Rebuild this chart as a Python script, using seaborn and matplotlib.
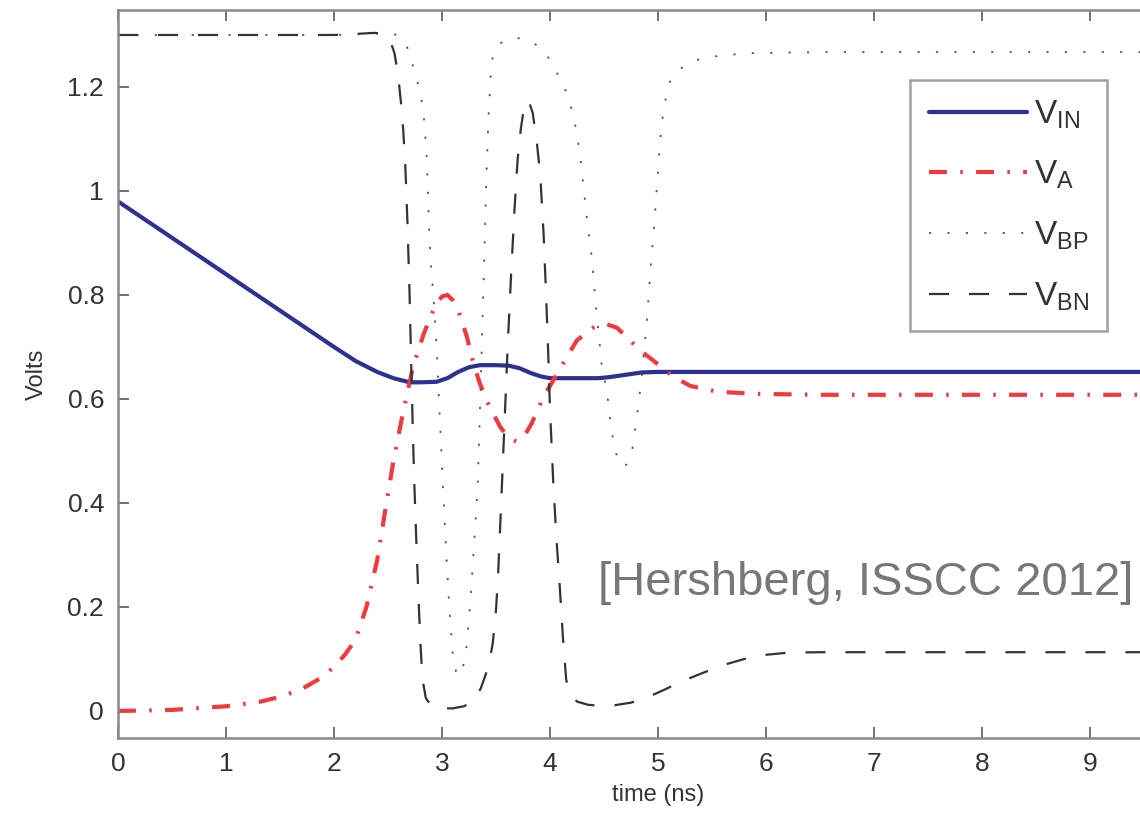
import matplotlib
matplotlib.use("Agg")
import matplotlib.pyplot as plt
import seaborn as sns
import pandas as pd

# ---- transient waveforms (time in ns, voltage in V) ----
t_in = [0, 0.5, 1.0, 1.5, 2.0, 2.2, 2.4, 2.55, 2.7, 2.8, 2.95, 3.05, 3.15, 3.25,
        3.35, 3.5, 3.62, 3.72, 3.82, 3.92, 4.0, 4.2, 4.45, 4.55, 4.65, 4.75, 4.85,
        5.0, 5.3, 6, 7, 8, 9, 10]
v_in = [0.980, 0.910, 0.840, 0.770, 0.700, 0.673, 0.652, 0.640, 0.632, 0.632, 0.633,
        0.640, 0.652, 0.661, 0.665, 0.665, 0.664, 0.659, 0.650, 0.643, 0.640, 0.640,
        0.640, 0.642, 0.645, 0.648, 0.651, 0.652, 0.652, 0.652, 0.652, 0.652, 0.652,
        0.652]

t_a = [0, 0.5, 1.0, 1.3, 1.5, 1.7, 1.9, 2.0, 2.1, 2.2, 2.3, 2.4, 2.47, 2.55, 2.64,
       2.73, 2.83, 2.94, 3.0, 3.05, 3.1, 3.15, 3.23, 3.29, 3.35, 3.44, 3.54, 3.62,
       3.69, 3.76, 3.83, 3.94, 4.03, 4.14, 4.25, 4.4, 4.52, 4.62, 4.74, 4.83, 4.95,
       5.14, 5.3, 5.55, 5.88, 6.5, 7, 8, 9, 10]
v_a = [0.000, 0.002, 0.009, 0.017, 0.027, 0.042, 0.066, 0.085, 0.108, 0.137, 0.200,
       0.290, 0.380, 0.480, 0.575, 0.660, 0.725, 0.781, 0.797, 0.800, 0.790, 0.771,
       0.720, 0.669, 0.630, 0.585, 0.546, 0.525, 0.518, 0.528, 0.553, 0.604, 0.636,
       0.675, 0.713, 0.737, 0.744, 0.737, 0.713, 0.694, 0.675, 0.643, 0.625, 0.614,
       0.610, 0.608, 0.608, 0.608, 0.608, 0.608]

t_bp = [0, 1, 2, 2.46, 2.55, 2.6, 2.64, 2.68, 2.72, 2.76, 2.79, 2.82, 2.84, 2.86,
        2.88, 2.9, 2.92, 2.95, 2.98, 3.01, 3.04, 3.07, 3.1, 3.13, 3.16, 3.19, 3.22,
        3.25, 3.28, 3.33, 3.36, 3.39, 3.41, 3.43, 3.45, 3.47, 3.52, 3.57, 3.63, 3.69,
        3.75, 3.81, 3.88, 3.94, 3.99, 4.03, 4.07, 4.11, 4.15, 4.19, 4.22, 4.25, 4.28,
        4.31, 4.34, 4.39, 4.42, 4.45, 4.48, 4.53, 4.56, 4.6, 4.65, 4.69, 4.72, 4.76,
        4.8, 4.85, 4.9, 4.93, 4.96, 4.99, 5.02, 5.05, 5.08, 5.11, 5.19, 5.3, 5.42,
        5.57, 5.83, 6.5, 7, 8, 9, 10]
v_bp = [1.300, 1.300, 1.300, 1.303, 1.302, 1.298, 1.288, 1.275, 1.248, 1.221, 1.194,
        1.165, 1.125, 1.060, 0.930, 0.850, 0.800, 0.700, 0.560, 0.430, 0.300, 0.190,
        0.110, 0.075, 0.067, 0.080, 0.110, 0.175, 0.265, 0.430, 0.640, 0.860, 1.020,
        1.140, 1.220, 1.260, 1.280, 1.289, 1.293, 1.294, 1.293, 1.289, 1.280, 1.268,
        1.255, 1.240, 1.225, 1.210, 1.190, 1.165, 1.140, 1.110, 1.065, 1.008, 0.950,
        0.867, 0.790, 0.727, 0.662, 0.611, 0.553, 0.502, 0.473, 0.470, 0.477, 0.500,
        0.560, 0.643, 0.758, 0.850, 0.920, 1.010, 1.098, 1.156, 1.185, 1.210, 1.233,
        1.247, 1.256, 1.260, 1.265, 1.267, 1.267, 1.267, 1.267, 1.267]

t_bn = [0, 1, 2, 2.2, 2.37, 2.45, 2.5, 2.53, 2.56, 2.58, 2.6, 2.62, 2.64, 2.66, 2.68,
        2.7, 2.72, 2.74, 2.76, 2.78, 2.8, 2.82, 2.85, 2.9, 3.0, 3.1, 3.2, 3.29, 3.36,
        3.43, 3.47, 3.5, 3.52, 3.55, 3.58, 3.61, 3.64, 3.67, 3.7, 3.73, 3.76, 3.8,
        3.84, 3.88, 3.91, 3.94, 3.96, 3.98, 4.0, 4.03, 4.06, 4.09, 4.12, 4.15, 4.18,
        4.25, 4.35, 4.45, 4.6, 4.75, 4.9, 5.05, 5.2, 5.4, 5.6, 5.8, 6.0, 6.2, 6.5, 7,
        8, 9, 10]
v_bn = [1.300, 1.300, 1.300, 1.302, 1.304, 1.303, 1.295, 1.283, 1.265, 1.240, 1.210,
        1.170, 1.120, 1.050, 0.940, 0.800, 0.620, 0.460, 0.340, 0.230, 0.130, 0.060,
        0.025, 0.010, 0.005, 0.005, 0.009, 0.017, 0.044, 0.085, 0.130, 0.194, 0.265,
        0.410, 0.560, 0.710, 0.840, 0.960, 1.060, 1.120, 1.160, 1.175, 1.150, 1.090,
        1.030, 0.920, 0.820, 0.710, 0.580, 0.440, 0.330, 0.240, 0.140, 0.060, 0.035,
        0.018, 0.012, 0.010, 0.011, 0.016, 0.026, 0.040, 0.055, 0.072, 0.088, 0.100,
        0.108, 0.112, 0.113, 0.113, 0.113, 0.113, 0.113]

series_labels = [r"$\mathregular{V_{IN}}$", r"$\mathregular{V_{A}}$",
                 r"$\mathregular{V_{BP}}$", r"$\mathregular{V_{BN}}$"]
x_ticks = [0, 1, 2, 3, 4, 5, 6, 7, 8, 9]
y_ticks = [0, 0.2, 0.4, 0.6, 0.8, 1.0, 1.2]
y_tick_labels = ["0", "0.2", "0.4", "0.6", "0.8", "1", "1.2"]
citation = "[Hershberg, ISSCC 2012]"

sns.set_style("ticks")
plt.rcParams["font.family"] = ["Liberation Sans", "DejaVu Sans"]
plt.rcParams["mathtext.fontset"] = "custom"

fig = plt.figure(figsize=(11.40, 8.21), dpi=100)
# the axes run past the right edge of the figure, so the trace is cut at ~9.5 ns
ax = fig.add_axes([0.1035, 0.1011, 0.9474, 0.8867])

styles = [
    dict(data=pd.DataFrame({"t": t_in, "v": v_in}), color="#2e3192", lw=3.0,
         ls="-"),
    dict(data=pd.DataFrame({"t": t_a, "v": v_a}), color="#f03a3d", lw=3.0,
         ls=(0, (4.3, 3.2, 0.6, 3.2))),
    dict(data=pd.DataFrame({"t": t_bp, "v": v_bp}), color="#555555", lw=1.3,
         ls=(0, (1.2, 9.0))),
    dict(data=pd.DataFrame({"t": t_bn, "v": v_bn}), color="#333333", lw=1.6,
         ls=(0, (9.0, 9.0))),
]
for st, lab in zip(styles, series_labels):
    sns.lineplot(data=st["data"], x="t", y="v", ax=ax, color=st["color"],
                 linewidth=st["lw"], linestyle=st["ls"], label=lab,
                 estimator=None, sort=False)

ax.set_xlim(0, 10)
ax.set_ylim(-0.052, 1.348)
ax.set_xticks(x_ticks)
ax.set_xticklabels([str(v) for v in x_ticks])
ax.set_yticks(y_ticks)
ax.set_yticklabels(y_tick_labels)
ax.tick_params(direction="in", length=8, width=1.3, color="#666666",
               labelsize=19, labelcolor="#333333", top=True, right=True, pad=10)
for side in ["left", "bottom", "top", "right"]:
    ax.spines[side].set_color("#888888")
    ax.spines[side].set_linewidth(1.8)

ax.set_xlabel("time (ns)", fontsize=17, color="#333333", labelpad=6)
ax.set_ylabel("Volts", fontsize=17, color="#333333", labelpad=14)

leg = ax.legend(loc="upper right", bbox_to_anchor=(1107 / 1140, 1 - 80 / 821),
                bbox_transform=fig.transFigure, fontsize=24, frameon=True,
                fancybox=False, handlelength=2.95, handletextpad=0.2,
                labelspacing=0.85, borderpad=0.55, borderaxespad=0)
leg.get_frame().set_edgecolor("#888888")
leg.get_frame().set_linewidth(1.8)
for txt in leg.get_texts():
    txt.set_color("#333333")

fig.text(1133 / 1140, 1 - 583 / 821, citation, fontsize=34, color="#777777",
         ha="right", va="center")

fig.savefig("out.png", dpi=100)
